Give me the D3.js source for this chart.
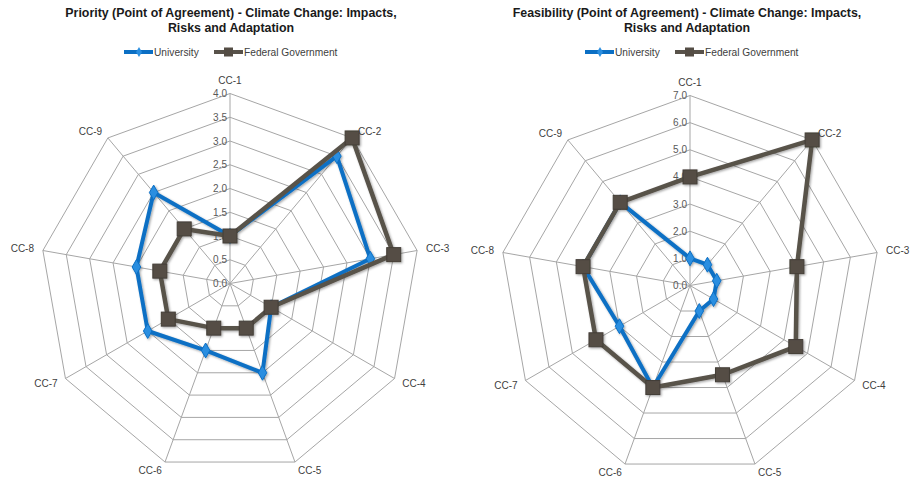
<!DOCTYPE html>
<html>
<head>
<meta charset="utf-8">
<script src="https://cdn.jsdelivr.net/npm/d3@7"></script>
<style>
  html, body { margin: 0; padding: 0; background: #fff; }
  svg { display: block; font-family: "Liberation Sans", Arial, sans-serif; }
</style>
</head>
<body>
<svg id="chart" width="913" height="482"></svg>
<script>
// Axis categories shared by both radar charts
const categories = ["CC-1", "CC-2", "CC-3", "CC-4", "CC-5", "CC-6", "CC-7", "CC-8", "CC-9"];
const seriesNames = ["University", "Federal Government"];

// Priority chart values
const priorityUniversity = [1.0, 3.5, 3.0, 1.0, 2.0, 1.5, 2.0, 2.0, 2.5];
const priorityFederal    = [1.0, 4.0, 3.5, 1.0, 1.0, 1.0, 1.5, 1.5, 1.5];
const priorityTicks      = [0, 0.5, 1, 1.5, 2, 2.5, 3, 3.5, 4];

// Feasibility chart values
const feasibilityUniversity = [1.0, 1.0, 1.0, 1.0, 1.0, 4.0, 3.0, 4.0, 4.0];
const feasibilityFederal    = [4.0, 7.0, 4.0, 4.5, 3.5, 4.0, 4.0, 4.0, 4.0];
const feasibilityTicks      = [0, 1, 2, 3, 4, 5, 6, 7];

const colors = { University: "#0b6fc4", Federal: "#58524a" };

const svg = d3.select("#chart");

// soft drop shadow used under the series marks
const defs = svg.append("defs");
const f = defs.append("filter").attr("id", "shadow")
  .attr("x", "-20%").attr("y", "-20%").attr("width", "140%").attr("height", "140%");
f.append("feDropShadow").attr("dx", 1.2).attr("dy", 1.2)
  .attr("stdDeviation", 1.2).attr("flood-color", "#000").attr("flood-opacity", 0.35);

function radar(opts) {
  const g = svg.append("g");
  const { cx, cy, R, ticks, uni, fed, title, titleX } = opts;
  const n = categories.length;
  const maxV = ticks[ticks.length - 1];
  const r = d3.scaleLinear().domain([0, maxV]).range([0, R]);
  const ang = d3.scaleLinear().domain([0, n]).range([0, 2 * Math.PI]);
  const pt = (i, v) => [cx + r(v) * Math.sin(ang(i)), cy - r(v) * Math.cos(ang(i))];

  // title
  const t = g.append("text").attr("x", titleX).attr("text-anchor", "middle")
    .attr("font-weight", "bold").attr("font-size", 12.4).attr("fill", "#1a1a1a");
  title.forEach((line, k) => t.append("tspan").attr("x", titleX).attr("y", 17 + k * 14.5).text(line));

  // grid rings
  const ringLine = d3.lineRadial().curve(d3.curveLinearClosed)
    .angle((d, i) => ang(i)).radius(d => r(d));
  const grid = g.append("g").attr("transform", `translate(${cx},${cy})`);
  ticks.slice(1).forEach(tv => {
    grid.append("path").attr("d", ringLine(categories.map(() => tv)))
      .attr("fill", "none").attr("stroke", "#a6a6a6").attr("stroke-width", 1);
  });
  categories.forEach((c, i) => {
    const p = pt(i, maxV);
    g.append("line").attr("x1", cx).attr("y1", cy).attr("x2", p[0]).attr("y2", p[1])
      .attr("stroke", "#a6a6a6").attr("stroke-width", 1);
  });

  // tick labels along the first spoke
  const fmt = d3.format(".1f");
  ticks.forEach(tv => {
    g.append("text").attr("x", cx - 3).attr("y", cy - r(tv)).attr("dy", "0.35em")
      .attr("text-anchor", "end").attr("font-size", 10).attr("fill", "#595959").text(fmt(tv));
  });

  // category labels, set just beyond each outer vertex
  categories.forEach((c, i) => {
    const a = ang(i);
    const s = Math.sin(a), co = Math.cos(a);
    const p = pt(i, maxV);
    const x = p[0] + 9 * s, y = p[1] - 9 * co - (co > 0.9 ? 4 : 0);
    g.append("text").attr("x", x).attr("y", y).attr("dy", "0.35em")
      .attr("text-anchor", s > 0.1 ? "start" : s < -0.1 ? "end" : "middle")
      .attr("font-size", 10).attr("fill", "#404040").text(c);
  });

  // series
  const seriesLine = d3.lineRadial().curve(d3.curveLinearClosed)
    .angle((d, i) => ang(i)).radius(d => r(d));
  const sg = g.append("g").attr("filter", "url(#shadow)");
  const ug = sg.append("g").attr("transform", `translate(${cx},${cy})`);
  ug.append("path").attr("d", seriesLine(uni)).attr("fill", "none")
    .attr("stroke", colors.University).attr("stroke-width", 4).attr("stroke-linejoin", "round");
  uni.forEach((v, i) => {
    const p = pt(i, v);
    sg.append("path").attr("d", d3.symbol(d3.symbolDiamond, 64)())
      .attr("transform", `translate(${p[0]},${p[1]})`)
      .attr("fill", "#2a8ee0").attr("stroke", colors.University).attr("stroke-width", 1);
  });
  const fg = sg.append("g").attr("transform", `translate(${cx},${cy})`);
  fg.append("path").attr("d", seriesLine(fed)).attr("fill", "none")
    .attr("stroke", colors.Federal).attr("stroke-width", 4.5).attr("stroke-linejoin", "round");
  fed.forEach((v, i) => {
    const p = pt(i, v);
    sg.append("rect").attr("x", p[0] - 7).attr("y", p[1] - 7).attr("width", 14).attr("height", 14)
      .attr("fill", "#544d45").attr("stroke", "#443e37").attr("stroke-width", 1);
  });

  // legend
  const lg = g.append("g").attr("transform", `translate(${opts.legendX},52)`);
  lg.append("line").attr("x1", 0).attr("x2", 29).attr("y1", 0).attr("y2", 0)
    .attr("stroke", colors.University).attr("stroke-width", 4);
  lg.append("path").attr("d", d3.symbol(d3.symbolDiamond, 30)())
    .attr("transform", "translate(15,0)").attr("fill", "#2a8ee0");
  lg.append("text").attr("x", 30).attr("y", 0).attr("dy", "0.35em")
    .attr("font-size", 10.2).attr("fill", "#404040").text(seriesNames[0]);
  lg.append("line").attr("x1", 90).attr("x2", 119).attr("y1", 0).attr("y2", 0)
    .attr("stroke", colors.Federal).attr("stroke-width", 4);
  lg.append("rect").attr("x", 100).attr("y", -4.5).attr("width", 9).attr("height", 9)
    .attr("fill", "#544d45");
  lg.append("text").attr("x", 120).attr("y", 0).attr("dy", "0.35em")
    .attr("font-size", 10.2).attr("fill", "#404040").text(seriesNames[1]);
}

radar({
  cx: 230, cy: 283.5, R: 190, ticks: priorityTicks,
  uni: priorityUniversity, fed: priorityFederal,
  title: ["Priority (Point of Agreement) - Climate Change: Impacts,", "Risks and Adaptation"],
  titleX: 231, legendX: 124
});
radar({
  cx: 690, cy: 285.5, R: 190, ticks: feasibilityTicks,
  uni: feasibilityUniversity, fed: feasibilityFederal,
  title: ["Feasibility (Point of Agreement) - Climate Change: Impacts,", "Risks and Adaptation"],
  titleX: 687, legendX: 585
});
</script>
</body>
</html>
